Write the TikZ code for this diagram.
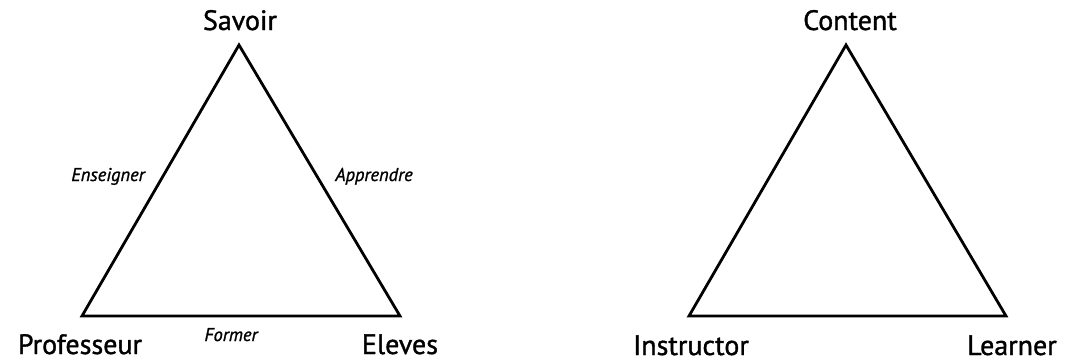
\documentclass[tikz,border=0pt]{standalone}
\usepackage{fontspec}
\setmainfont{PT Sans}
\begin{document}
\begin{tikzpicture}[x=1pt,y=-1pt,
  vlabel/.style={anchor=base,inner sep=0pt,font=\fontsize{28}{31}\selectfont\addfontfeature{FakeBold=1.2}},
  elabel/.style={anchor=base,inner sep=0pt,font=\fontsize{18.5}{20}\selectfont\itshape\addfontfeature{FakeBold=1.2}},
  tri/.style={line width=2.8pt,line join=miter}]
\useasboundingbox (0,0) rectangle (1065,362);
% left triangle
\coordinate (sA) at (239,45);
\coordinate (sB) at (82,316);
\coordinate (sC) at (400,316);
\draw[tri] (sA) -- (sB) -- (sC) -- cycle;
\node[vlabel] (savoir) at (240,30) {Savoir};
\node[vlabel] (prof) at (80,354) {Professeur};
\node[vlabel] (eleves) at (400,354) {Eleves};
\node[elabel] (ens) at (108,181) {Enseigner};
\node[elabel] (app) at (374,181) {Apprendre};
\node[elabel] (form) at (231,341) {Former};
% right triangle
\coordinate (cA) at (846,45);
\coordinate (cB) at (689,316);
\coordinate (cC) at (1006,316);
\draw[tri] (cA) -- (cB) -- (cC) -- cycle;
\node[vlabel] (content) at (850,30) {Content};
\node[vlabel] (instr) at (691,355) {Instructor};
\node[vlabel] (learner) at (1012,355) {Learner};
\end{tikzpicture}
\end{document}
